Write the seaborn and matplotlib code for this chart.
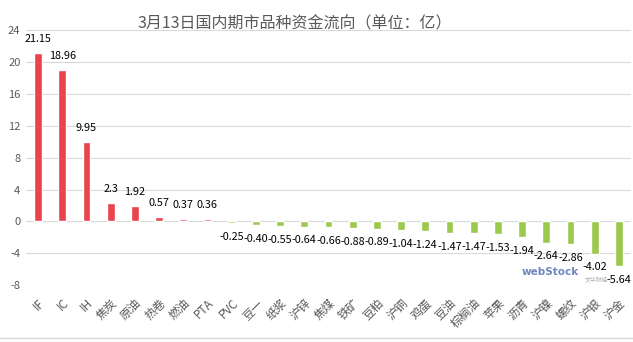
import matplotlib
matplotlib.use("Agg")
import matplotlib.pyplot as plt
import seaborn as sns
import pandas as pd

# 品种及资金流向（亿元）
categories = ["IF", "IC", "IH", "焦炭", "原油", "热卷", "燃油", "PTA", "PVC", "豆一",
              "纸浆", "沪锌", "焦煤", "铁矿", "豆粕", "沪铜", "鸡蛋", "豆油", "棕榈油",
              "苹果", "沥青", "沪镍", "螺纹", "沪银", "沪金"]
values = [21.15, 18.96, 9.95, 2.3, 1.92, 0.57, 0.37, 0.36, -0.25, -0.40,
          -0.55, -0.64, -0.66, -0.88, -0.89, -1.04, -1.24, -1.47, -1.47,
          -1.53, -1.94, -2.64, -2.86, -4.02, -5.64]
value_labels = ["21.15", "18.96", "9.95", "2.3", "1.92", "0.57", "0.37", "0.36",
                "-0.25", "-0.40", "-0.55", "-0.64", "-0.66", "-0.88", "-0.89",
                "-1.04", "-1.24", "-1.47", "-1.47", "-1.53", "-1.94", "-2.64",
                "-2.86", "-4.02", "-5.64"]
y_ticks = [-8, -4, 0, 4, 8, 12, 16, 20, 24]
title = "3月13日国内期市品种资金流向（单位：亿）"

RED = "#E9444B"
GREEN = "#9DC84E"
GRID = "#D9D9D9"

sns.set_theme(style="white")
plt.rcParams["font.family"] = ["Noto Sans CJK SC", "DejaVu Sans"]

df = pd.DataFrame({"品种": categories, "资金": values})
palette = {c: (RED if v >= 0 else GREEN) for c, v in zip(categories, values)}

fig = plt.figure(figsize=(6.33, 3.42), dpi=100)
ax = fig.add_axes([26 / 633, 1 - 285.3 / 342, 605 / 633, 255.3 / 342])

sns.barplot(data=df, x="品种", y="资金", hue="品种", palette=palette,
            width=0.32, legend=False, ax=ax, saturation=1)

ax.set_ylim(-8, 24)
ax.set_xlim(-0.5, len(categories) - 0.5)
ax.set_yticks(y_ticks)
ax.set_yticklabels([str(t) for t in y_ticks], fontsize=8, color="#595959")
ax.yaxis.grid(True, color=GRID, linewidth=0.8)
ax.set_axisbelow(True)
for s in ax.spines.values():
    s.set_visible(False)
ax.tick_params(axis="both", length=0, pad=4)
ax.set_xlabel("")
ax.set_ylabel("")

ax.set_xticks(range(len(categories)))
ax.set_xticklabels(categories, rotation=45, ha="right", rotation_mode="anchor",
                   fontsize=8.5, color="#595959")
ax.tick_params(axis="x", pad=8)

# 数值标签：正值在柱顶之上，负值在柱底之下
for i, (v, lab) in enumerate(zip(values, value_labels)):
    off = 10 if v >= 0 else -10
    ax.annotate(lab, (i, v), xytext=(0, off), textcoords="offset points",
                ha="center", va="center", fontsize=7.8, color="#000000")

fig.text(295 / 633, 1 - 24 / 342, title, ha="center", va="center",
         fontsize=11.5, color="#595959")

# 水印
fig.text(550 / 633, 1 - 272 / 342, "webStock", ha="center", va="center",
         fontsize=7.5, color="#3F5FA8", fontweight="bold", alpha=0.75,
         family="DejaVu Sans")
fig.text(597 / 633, 1 - 279 / 342, "文华财经", ha="center", va="center",
         fontsize=4.2, color="#9A9A9A", alpha=0.8)

# 底部边框
fig.add_artist(plt.Line2D([0, 1], [1 - 338 / 342] * 2, color=GRID, linewidth=1,
                          transform=fig.transFigure))

fig.savefig("out.png", dpi=100)
